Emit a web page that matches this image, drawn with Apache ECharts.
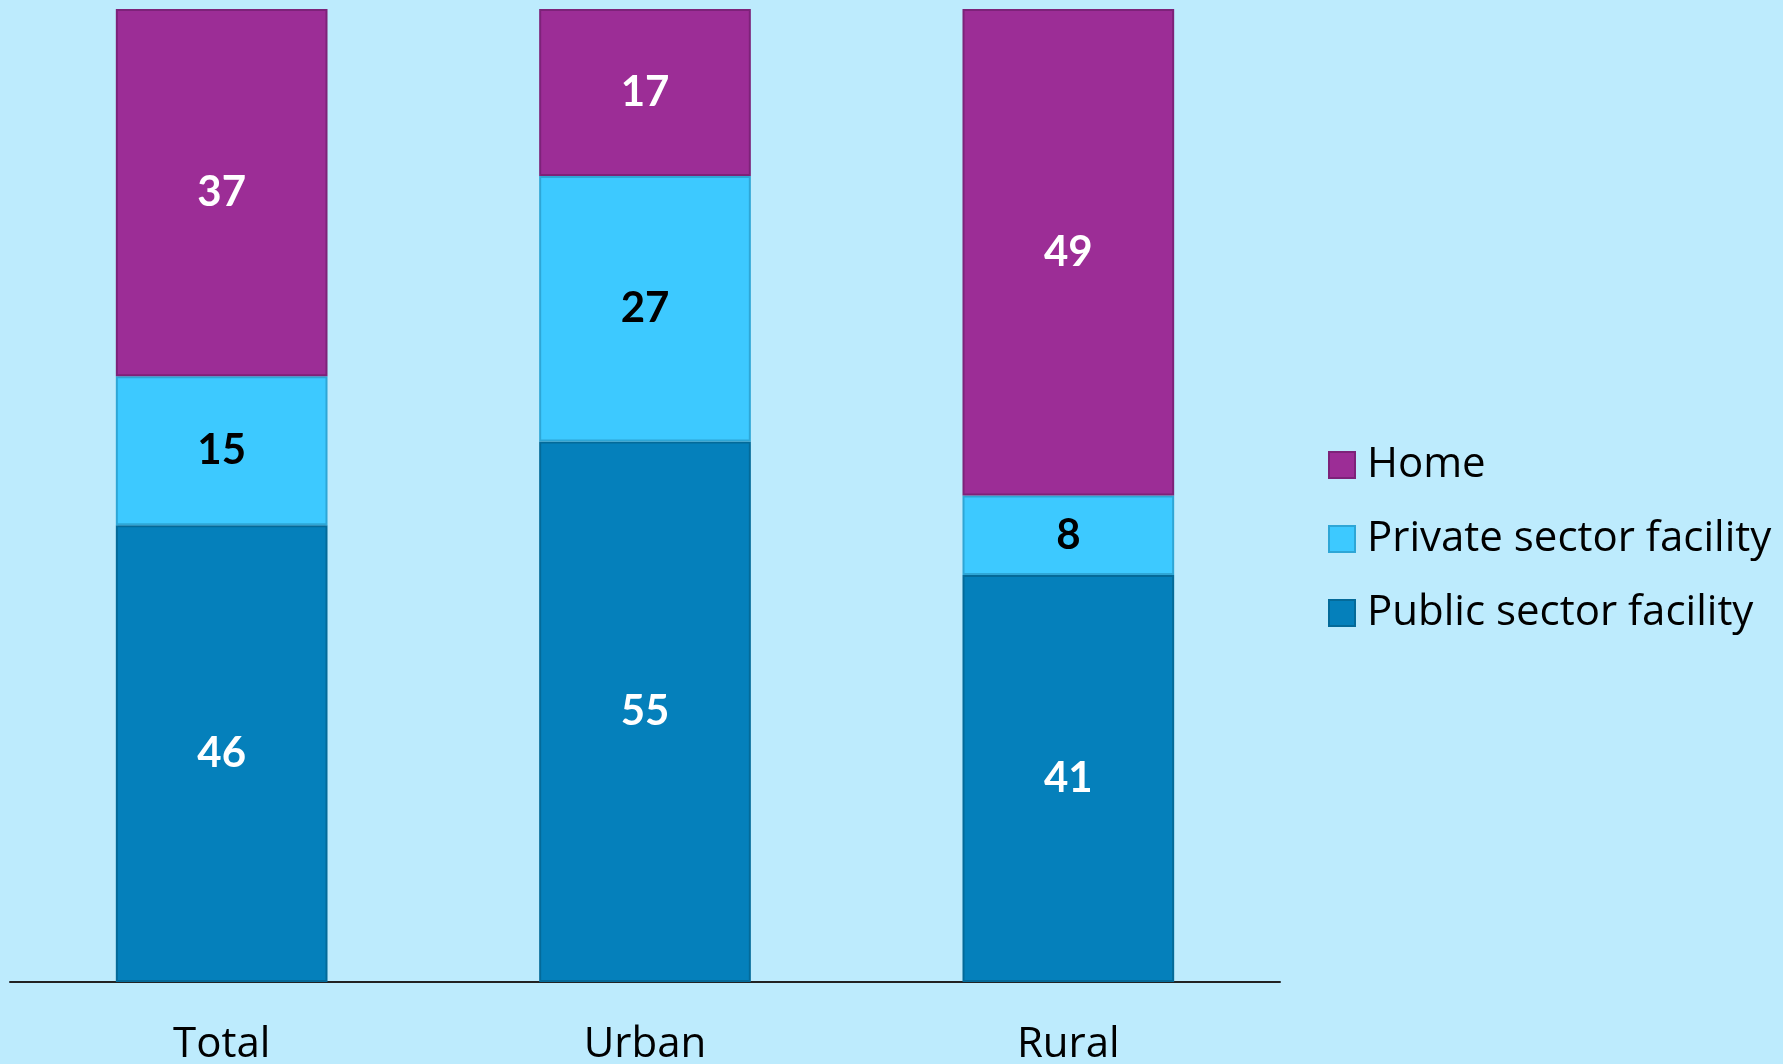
<!DOCTYPE html>
<html>
<head>
<meta charset="utf-8">
<script src="https://cdn.jsdelivr.net/npm/echarts@6/dist/echarts.min.js"></script>
<style>
html, body { margin: 0; padding: 0; background: #bdebfd; }
#chart { width: 1783px; height: 1064px; }
</style>
</head>
<body>
<div id="chart"></div>
<script>
const categories = ["Total", "Urban", "Rural"]
const publicSector = [46, 55, 41]
const privateSector = [15, 27, 8]
const home = [37, 17, 49]

// each bar is drawn as a share of its own total (100% stacked)
const totals = categories.map((c, i) => publicSector[i] + privateSector[i] + home[i])
const share = arr => arr.map((v, i) => ({ value: (v / totals[i]) * 100, raw: v }))

const numFont = "Lato"
const textFont = "Open Sans"

const makeSeries = (name, data, color, border, labelColor) => ({
	name,
	type: "bar",
	stack: "all",
	barWidth: "50%",
	data: share(data),
	itemStyle: {
		color,
		borderColor: border,
		borderWidth: 2,
	},
	label: {
		show: true,
		position: "inside",
		formatter: p => p.data.raw,
		color: labelColor,
		fontFamily: numFont,
		fontWeight: "bold",
		fontSize: 42,
	},
})

const chart = echarts.init(document.getElementById("chart"))
chart.setOption({
	backgroundColor: "#bdebfd",
	animation: false,
	grid: {
		left: 10,
		right: 503,
		top: 9,
		bottom: 82,
		outerBoundsMode: "none",
	},
	legend: {
		orient: "vertical",
		left: 1323,
		top: 438,
		data: ["Home", "Private sector facility", "Public sector facility"],
		itemWidth: 26,
		itemHeight: 26,
		itemGap: 30,
		icon: "rect",
		textStyle: {
			fontFamily: textFont,
			fontSize: 42,
			color: "#000",
			lineHeight: 44,
			padding: [0, 0, 0, 7],
		},
	},
	xAxis: {
		type: "category",
		data: categories,
		axisLine: { lineStyle: { color: "#222", width: 2 } },
		axisTick: { show: false },
		axisLabel: {
			fontFamily: textFont,
			fontSize: 42,
			color: "#000",
			margin: 42,
		},
	},
	yAxis: {
		type: "value",
		min: 0,
		max: 100,
		show: false,
	},
	series: [
		makeSeries("Public sector facility", publicSector, "#0580bb", "#046a99", "#fff"),
		makeSeries("Private sector facility", privateSector, "#3dc9ff", "#2ea6d6", "#000"),
		makeSeries("Home", home, "#9c2d96", "#7d2279", "#fff"),
	],
})
</script>
</body>
</html>
